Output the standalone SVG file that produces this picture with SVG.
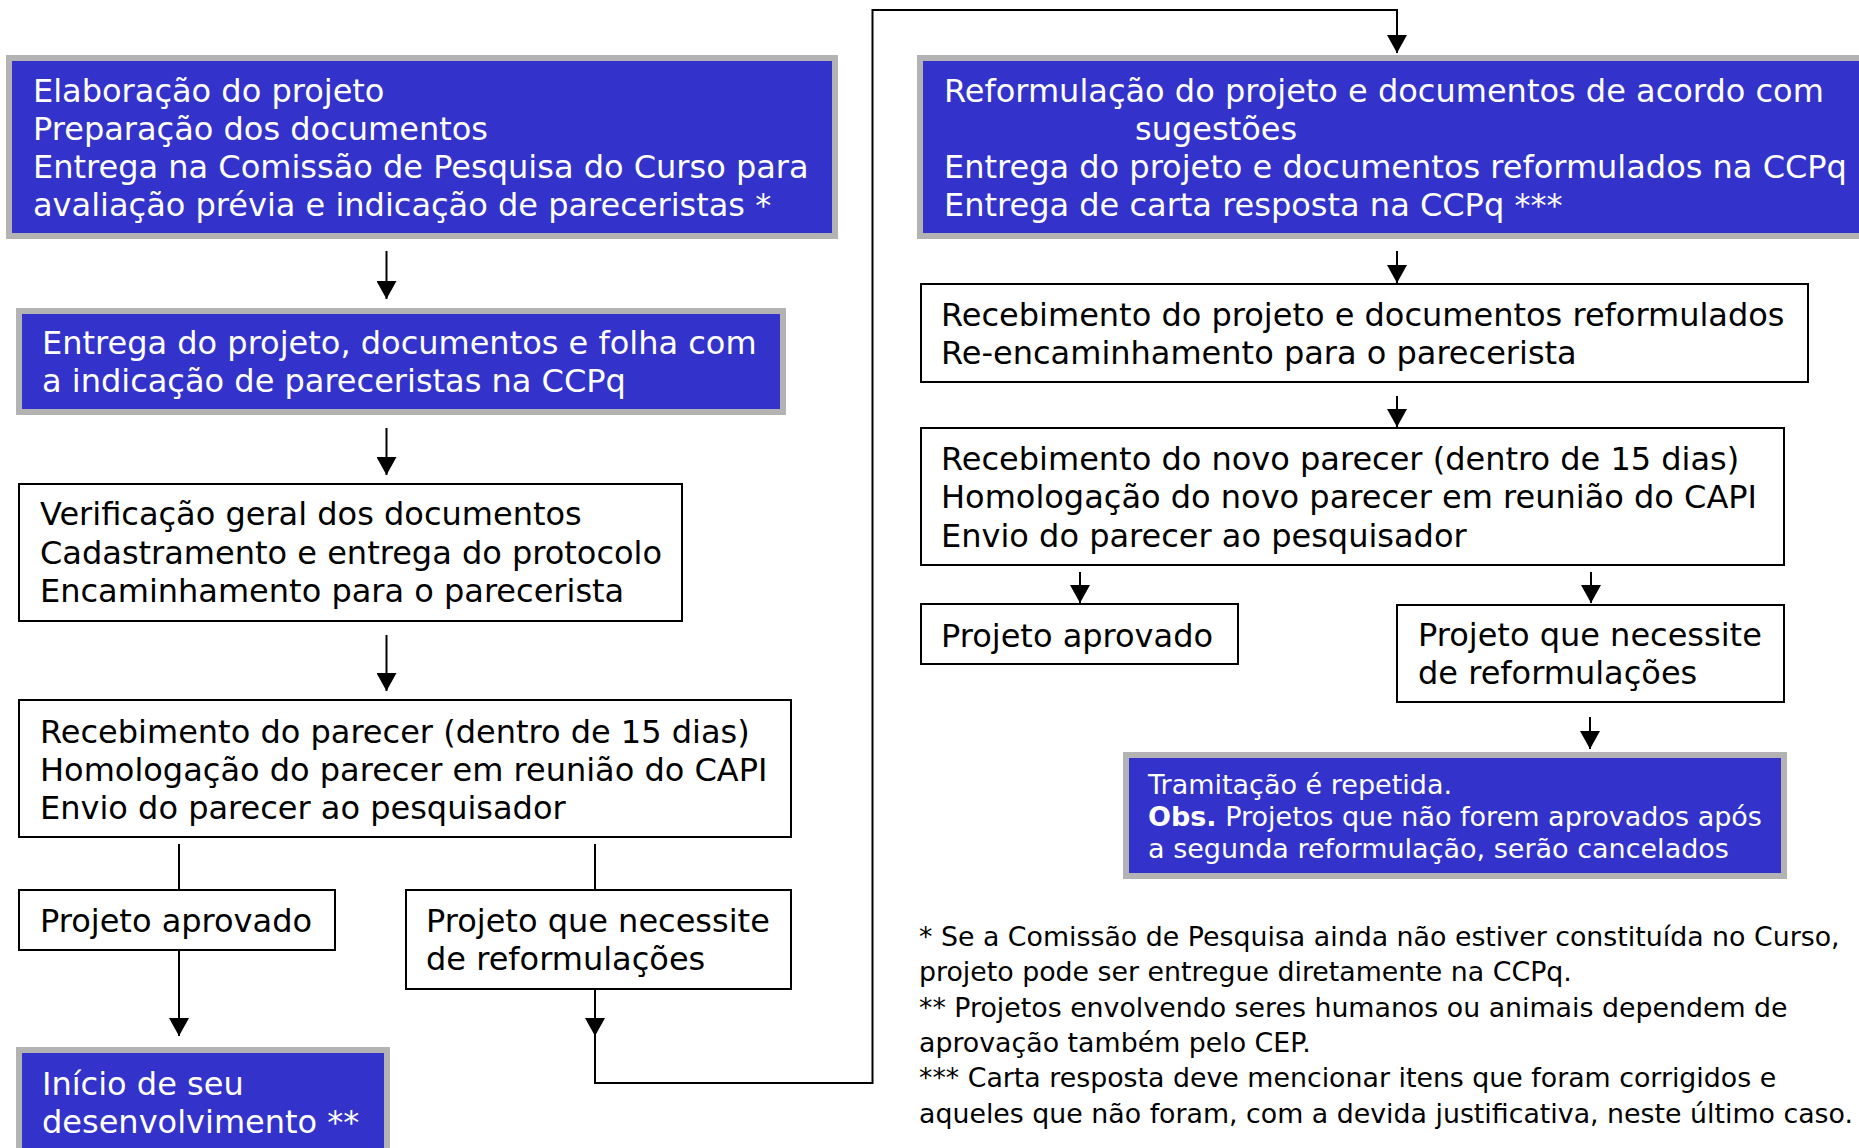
<svg xmlns="http://www.w3.org/2000/svg" width="1859" height="1148" viewBox="0 0 1859 1148">
<style>
.bb{fill:#3333cc;stroke:#b3b3b3;stroke-width:6}
.wb{fill:#ffffff;stroke:#000000;stroke-width:2}
text{font-family:"DejaVu Sans","Liberation Sans",sans-serif}
.tw{fill:#ffffff;font-size:32px}
.tk{fill:#000000;font-size:32px}
.ts{fill:#ffffff;font-size:27px}
.tf{fill:#000000;font-size:26.8px}
.c{fill:none;stroke:#000000;stroke-width:2}
</style>
<defs>
<marker id="ah" viewBox="0 0 18 20" refX="18" refY="10" markerWidth="18" markerHeight="20" markerUnits="userSpaceOnUse" orient="auto">
<path d="M0,0 L18,10 L0,20 z" fill="#000000"/>
</marker>
</defs>
<rect width="1859" height="1148" fill="#ffffff"/>
<g id="connectors">
<path class="c" d="M386.5,251 V299" marker-end="url(#ah)"/>
<path class="c" d="M386.5,428 V475" marker-end="url(#ah)"/>
<path class="c" d="M386.5,635 V691" marker-end="url(#ah)"/>
<path class="c" d="M179,844 V890"/>
<path class="c" d="M595,844 V890"/>
<path class="c" d="M179,950 V1036" marker-end="url(#ah)"/>
<path class="c" d="M595,989 V1036" marker-end="url(#ah)"/>
<path class="c" d="M595,1036 V1083 H872.5 V10 H1397 V53" marker-end="url(#ah)"/>
<path class="c" d="M1397,251 V283" marker-end="url(#ah)"/>
<path class="c" d="M1397,396 V427" marker-end="url(#ah)"/>
<path class="c" d="M1080,572 V603" marker-end="url(#ah)"/>
<path class="c" d="M1591,572 V603" marker-end="url(#ah)"/>
<path class="c" d="M1590,717 V749" marker-end="url(#ah)"/>
</g>
<g id="n1">
<rect class="bb" x="9" y="58" width="826" height="178"/>
<text class="tw" x="33" y="102">Elaboração do projeto</text>
<text class="tw" x="33" y="140">Preparação dos documentos</text>
<text class="tw" x="33" y="178">Entrega na Comissão de Pesquisa do Curso para</text>
<text class="tw" x="33" y="216">avaliação prévia e indicação de pareceristas *</text>
</g>
<g id="n2">
<rect class="bb" x="19" y="311" width="764" height="101"/>
<text class="tw" x="42" y="354">Entrega do projeto, documentos e folha com</text>
<text class="tw" x="42" y="392">a indicação de pareceristas na CCPq</text>
</g>
<g id="n3">
<rect class="wb" x="19" y="484" width="663" height="137"/>
<text class="tk" x="40" y="525">Verificação geral dos documentos</text>
<text class="tk" x="40" y="564">Cadastramento e entrega do protocolo</text>
<text class="tk" x="40" y="602">Encaminhamento para o parecerista</text>
</g>
<g id="n4">
<rect class="wb" x="19" y="700" width="772" height="137"/>
<text class="tk" x="40" y="743">Recebimento do parecer (dentro de 15 dias)</text>
<text class="tk" x="40" y="781">Homologação do parecer em reunião do CAPI</text>
<text class="tk" x="40" y="819">Envio do parecer ao pesquisador</text>
</g>
<g id="n5">
<rect class="wb" x="19" y="890" width="316" height="60"/>
<text class="tk" x="40" y="932">Projeto aprovado</text>
</g>
<g id="n6">
<rect class="wb" x="406" y="890" width="385" height="99"/>
<text class="tk" x="426" y="932">Projeto que necessite</text>
<text class="tk" x="426" y="970">de reformulações</text>
</g>
<g id="n7">
<rect class="bb" x="19" y="1050" width="368" height="150"/>
<text class="tw" x="42" y="1095">Início de seu</text>
<text class="tw" x="42" y="1133">desenvolvimento **</text>
</g>
<g id="n8">
<rect class="bb" x="920" y="58" width="1000" height="178"/>
<text class="tw" x="944" y="102">Reformulação do projeto e documentos de acordo com</text>
<text class="tw" x="1135" y="140">sugestões</text>
<text class="tw" x="944" y="178">Entrega do projeto e documentos reformulados na CCPq</text>
<text class="tw" x="944" y="216">Entrega de carta resposta na CCPq ***</text>
</g>
<g id="n9">
<rect class="wb" x="921" y="284" width="887" height="98"/>
<text class="tk" x="941" y="326">Recebimento do projeto e documentos reformulados</text>
<text class="tk" x="941" y="364">Re-encaminhamento para o parecerista</text>
</g>
<g id="n10">
<rect class="wb" x="921" y="428" width="863" height="137"/>
<text class="tk" x="941" y="470">Recebimento do novo parecer (dentro de 15 dias)</text>
<text class="tk" x="941" y="508">Homologação do novo parecer em reunião do CAPI</text>
<text class="tk" x="941" y="547">Envio do parecer ao pesquisador</text>
</g>
<g id="n11">
<rect class="wb" x="921" y="604" width="317" height="60"/>
<text class="tk" x="941" y="647">Projeto aprovado</text>
</g>
<g id="n12">
<rect class="wb" x="1397" y="605" width="387" height="97"/>
<text class="tk" x="1418" y="646">Projeto que necessite</text>
<text class="tk" x="1418" y="684">de reformulações</text>
</g>
<g id="n13">
<rect class="bb" x="1126" y="755" width="658" height="121"/>
<text class="ts" x="1148" y="794">Tramitação é repetida.</text>
<text class="ts" x="1148" y="826"><tspan font-weight="bold">Obs.</tspan> Projetos que não forem aprovados após</text>
<text class="ts" x="1148" y="858">a segunda reformulação, serão cancelados</text>
</g>
<g id="notes">
<text class="tf" x="919" y="946">* Se a Comissão de Pesquisa ainda não estiver constituída no Curso,</text>
<text class="tf" x="919" y="981">projeto pode ser entregue diretamente na CCPq.</text>
<text class="tf" x="919" y="1017">** Projetos envolvendo seres humanos ou animais dependem de</text>
<text class="tf" x="919" y="1052">aprovação também pelo CEP.</text>
<text class="tf" x="919" y="1087">*** Carta resposta deve mencionar itens que foram corrigidos e</text>
<text class="tf" x="919" y="1123">aqueles que não foram, com a devida justificativa, neste último caso.</text>
</g>
</svg>
